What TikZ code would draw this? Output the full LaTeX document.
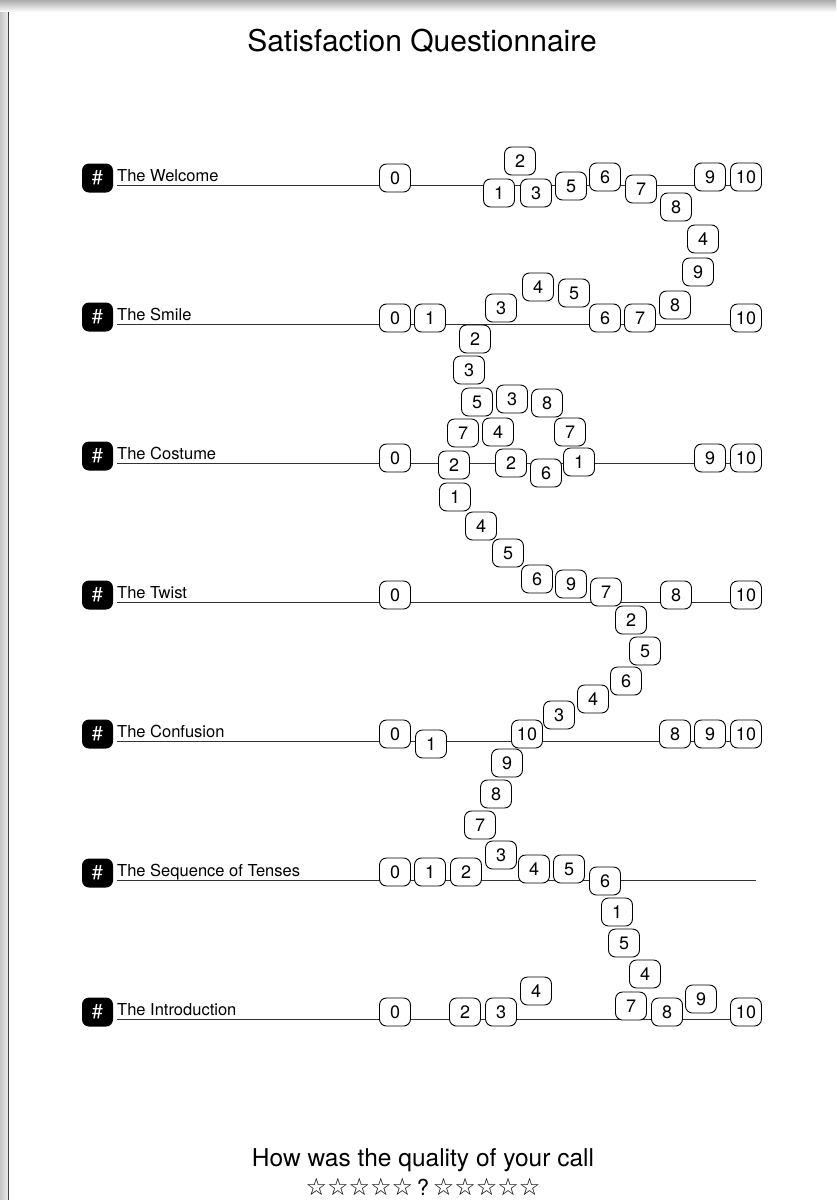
\documentclass[tikz,border=0pt]{standalone}
\usepackage{fontspec}
\setmainfont{TeX Gyre Heros}
\newfontfamily\starfont{DejaVu Sans}
\usetikzlibrary{positioning}
\tikzstyle{numbox}=[shape=rectangle, rounded corners=7pt, draw=black, fill=white, line width=0.9pt, minimum width=31pt, minimum height=28pt, inner sep=0pt, font=\fontsize{18}{20}\selectfont]
\tikzstyle{hashbox}=[shape=rectangle, rounded corners=7pt, fill=black, text=white, minimum width=31pt, minimum height=29pt, inner sep=0pt, font=\fontsize{20}{22}\selectfont]
\tikzstyle{rowlab}=[inner sep=0pt, anchor=base west, font=\fontsize{16.5}{18}\selectfont]
\tikzstyle{rowline}=[line width=1pt, black!80]
\begin{document}
\begin{tikzpicture}[x=1pt,y=-1pt]
\useasboundingbox (0,0) rectangle (836,1200);
%page edge
\shade[top color=gray!65, bottom color=white] (0,0) rectangle (836,12);
\shade[left color=gray!45, right color=gray!15] (0,12) rectangle (8,1200);
\draw[black!75, line width=1pt] (8.5,12) -- (8.5,1200);
\node[font=\fontsize{30}{34}\selectfont] (title) at (422,41) {Satisfaction Questionnaire};
%rows
\foreach \lab [count=\r, evaluate=\r as \y using 46+139*\r] in {The Welcome, The Smile, The Costume, The Twist, The Confusion, The Sequence of Tenses, The Introduction}{
  \node[hashbox] (h\r) at (97.5,\y-7) {\#};
  \node[rowlab] (t\r) at (117,\y-4) {\lab};
  \coordinate (s\r) at (117,\y);
  \coordinate (e\r) at (756,\y);
  \draw[rowline] (s\r) -- (e\r);
}
%answer boxes
\foreach \n/\x/\y [count=\k] in {
  0/395/178, 2/520/161, 1/499/193, 3/536/193, 5/571/186, 6/605/177, 7/641/189, 8/676/207, 9/710/177, 10/746/177, 4/703/239, 9/698/272,
  0/395/318, 1/430/318, 3/501/308, 4/538/287, 5/574/293, 6/605/318, 7/640/318, 8/675/305, 10/746/318, 2/475/339, 3/469/370, 5/477/402, 3/512/399, 8/547/403, 7/463/433, 4/498/432, 7/570/432,
  0/395/458, 2/454/465, 2/511/463, 6/546/473, 1/579/462, 9/710/458, 10/746/458, 1/455/497, 4/481/526, 5/508/553, 6/537/579, 9/571/584,
  0/395/595, 7/606/592, 8/676/595, 10/746/595, 2/631/620, 5/645/651, 6/626/681, 4/593/699, 3/559/715,
  0/395/734, 1/431/744, 10/527/734, 8/675/734, 9/710/734, 10/746/734, 9/507/763, 8/496/794, 7/480/825, 3/501/855,
  0/395/872, 1/430/872, 2/466/872, 4/534/869, 5/569/869, 6/605/881, 1/617/912, 5/624/943, 4/645/974,
  0/395/1012, 2/465/1012, 3/501/1012, 4/536/991, 7/631/1006, 8/667/1012, 9/701/999, 10/746/1012}{
  \node[numbox] (b\k) at (\x,\y) {\n};
}
%rating
\node[font=\fontsize{24.5}{28}\selectfont] (q) at (423,1160) {How was the quality of your call};
\node[font=\fontsize{22}{24}\selectfont, inner sep=0pt] (stars) at (423,1187) {{\starfont\fontsize{24}{26}\selectfont ☆☆☆☆☆}\,?\,{\starfont\fontsize{24}{26}\selectfont ☆☆☆☆☆}};
\end{tikzpicture}
\end{document}
